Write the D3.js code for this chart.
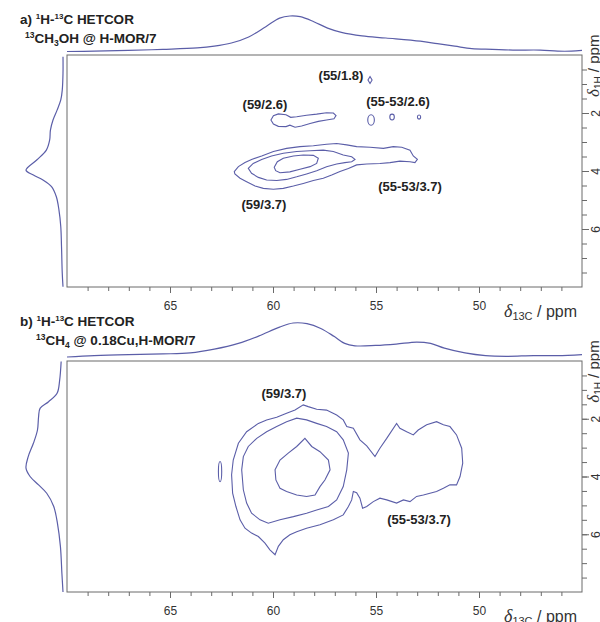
<!DOCTYPE html>
<html>
<head>
<meta charset="utf-8">
<script src="https://cdn.jsdelivr.net/npm/d3@7/dist/d3.min.js"></script>
<style>
body { margin: 0; background: #fff; }
svg { display: block; font-family: "Liberation Sans", Arial, sans-serif; }
</style>
</head>
<body>
<script>
// 13C axis (ppm, reversed) and 1H axis (ppm)
var xDomain = [70, 45];
var xMajor = [65, 60, 55, 50];
var yDomain = [0, 8];
var yMajor = [2, 4, 6];

// ---- panel a: 13CH3OH @ H-MOR/7 ----
// 1D projections (shift, relative intensity)
var topA_c = [70, 68.68, 67.02, 65.35, 63.68, 62.85, 62.02, 61.18, 60.35, 59.68, 59.18, 58.68, 58.02, 57.35, 56.68, 55.68, 54.52, 52.85, 52.02, 51.18, 50.35, 49.35, 48.35, 47.02, 46.18, 45.52, 45];
var topA_i = [0, 0.01, 0.03, 0.06, 0.10, 0.15, 0.24, 0.41, 0.70, 0.94, 1.0, 0.98, 0.84, 0.66, 0.54, 0.44, 0.38, 0.29, 0.22, 0.15, 0.08, 0.06, 0.04, 0.04, 0.01, 0.01, 0.03];
var leftA_h = [0.06, 0.63, 1.21, 1.55, 1.90, 2.24, 2.59, 2.93, 3.28, 3.62, 3.97, 4.14, 4.31, 4.54, 4.89, 5.34, 5.92, 6.61, 7.53, 7.99];
var leftA_i = [0, 0, 0.02, 0.06, 0.16, 0.27, 0.34, 0.36, 0.45, 0.71, 1.0, 0.80, 0.54, 0.31, 0.18, 0.11, 0.06, 0.04, 0.02, 0];

// contour lines, [13C, 1H] pairs
var contA_outer = [[61.88,4.02],[61.68,3.85],[61.36,3.71],[61.04,3.60],[60.55,3.48],[59.98,3.33],[59.34,3.22],[58.69,3.16],[58.04,3.13],[57.40,3.08],[56.91,3.05],[56.42,3.10],[55.94,3.16],[55.29,3.18],[54.64,3.22],[54.16,3.16],[53.75,3.18],[53.35,3.28],[53.19,3.48],[52.99,3.60],[53.11,3.71],[53.35,3.68],[53.84,3.66],[54.32,3.71],[54.81,3.74],[55.45,3.76],[55.94,3.79],[56.34,3.91],[56.75,4.02],[57.15,4.14],[57.56,4.25],[58.04,4.33],[58.53,4.43],[59.01,4.52],[59.50,4.60],[59.98,4.63],[60.47,4.60],[60.87,4.52],[61.28,4.37],[61.60,4.25],[61.85,4.10]];
var contA_mid = [[61.20,3.91],[60.96,3.74],[60.55,3.60],[60.07,3.48],[59.50,3.39],[58.85,3.33],[58.20,3.30],[57.56,3.28],[57.07,3.33],[56.59,3.45],[56.18,3.51],[56.02,3.60],[56.18,3.68],[56.51,3.71],[56.91,3.76],[57.40,3.85],[57.88,3.99],[58.37,4.10],[58.85,4.20],[59.34,4.29],[59.82,4.33],[60.31,4.31],[60.71,4.22],[61.04,4.08]];
var contA_inner = [[59.94,3.87],[59.79,3.68],[59.50,3.56],[59.01,3.48],[58.53,3.45],[58.04,3.46],[57.80,3.56],[57.88,3.74],[58.20,3.85],[58.69,3.94],[59.18,4.03],[59.66,4.06],[59.87,3.99]];
var contA_peanut = [[60.10,2.24],[59.98,2.09],[59.74,2.03],[59.37,2.06],[59.14,2.15],[58.85,2.13],[58.37,2.08],[57.88,2.04],[57.40,1.99],[57.07,2.00],[56.94,2.09],[57.04,2.20],[57.40,2.24],[57.80,2.29],[58.20,2.36],[58.61,2.45],[58.93,2.49],[59.18,2.42],[59.37,2.47],[59.74,2.46],[59.98,2.38]];
var contA_small = [[55.29,0.74],[55.19,0.86],[55.29,0.98],[55.39,0.86]];
// small round peaks: [13C, 1H, half-width 13C, half-width 1H]
var spotsA = [[55.24,2.24,0.16,0.18],[54.22,2.14,0.11,0.10],[52.91,2.14,0.08,0.07]];
var labelsA = ["(55/1.8)", "(59/2.6)", "(55-53/2.6)", "(55-53/3.7)", "(59/3.7)"];
var labelPosA = [[56.70,0.69],[60.39,1.69],[53.93,1.62],[53.35,4.52],[60.44,5.14]];

// ---- panel b: 13CH4 @ 0.18Cu,H-MOR/7 ----
var topB_c = [70, 68.68, 67.02, 65.35, 64.02, 62.85, 61.68, 60.68, 59.68, 59.02, 58.35, 57.68, 57.02, 56.52, 56.02, 55.02, 54.02, 53.02, 52.35, 51.68, 50.68, 49.68, 48.68, 47.35, 46.18, 45];
var topB_i = [0, 0.04, 0.07, 0.09, 0.12, 0.23, 0.40, 0.62, 0.88, 1.0, 0.98, 0.84, 0.60, 0.40, 0.33, 0.34, 0.38, 0.44, 0.40, 0.26, 0.12, 0.04, 0.02, 0.04, 0.04, 0.07];
var leftB_h = [0.02, 0.66, 1.12, 1.41, 1.64, 1.93, 2.39, 2.85, 3.31, 3.71, 4.0, 4.29, 4.58, 5.04, 5.62, 6.42, 7.35, 8.0];
var leftB_i = [0.05, 0.09, 0.16, 0.39, 0.62, 0.66, 0.69, 0.80, 0.94, 1.0, 0.89, 0.66, 0.44, 0.25, 0.15, 0.07, 0.03, 0];

var contB_outer = [[62.01,3.94],[61.93,3.43],[61.68,2.85],[61.28,2.45],[60.71,2.16],[60.31,2.04],[59.82,1.95],[59.34,1.81],[58.93,1.70],[58.53,1.52],[58.29,1.58],[57.88,1.67],[57.40,1.70],[56.91,1.87],[56.59,2.04],[56.42,2.27],[56.10,2.33],[55.78,2.73],[55.45,2.94],[55.05,3.31],[54.81,3.02],[54.48,2.68],[54.00,2.16],[53.84,2.33],[53.51,2.45],[53.19,2.56],[52.95,2.39],[52.54,2.21],[52.06,2.10],[51.73,2.21],[51.41,2.27],[51.09,2.56],[50.84,3.02],[50.79,3.54],[50.92,4.00],[51.09,4.29],[51.41,4.29],[51.73,4.41],[52.06,4.52],[52.38,4.58],[52.70,4.64],[53.03,4.69],[53.35,4.87],[53.67,4.81],[54.00,4.92],[54.48,4.81],[54.81,4.75],[55.13,4.87],[55.45,5.04],[55.65,5.10],[55.78,4.75],[55.94,4.56],[56.10,4.52],[56.18,4.81],[56.34,5.04],[56.59,5.33],[57.07,5.50],[57.72,5.67],[58.37,5.79],[58.85,5.91],[59.18,6.02],[59.50,6.19],[59.74,6.42],[59.90,6.71],[60.15,6.54],[60.39,6.31],[60.71,6.08],[61.04,5.96],[61.36,5.79],[61.60,5.50],[61.80,5.04],[61.96,4.58]];
var contB_mid = [[61.52,3.77],[61.44,3.31],[61.20,2.96],[60.79,2.68],[60.31,2.45],[59.82,2.27],[59.34,2.10],[58.85,1.98],[58.37,2.04],[57.88,2.16],[57.40,2.27],[56.91,2.45],[56.59,2.73],[56.34,3.19],[56.42,3.77],[56.59,4.35],[56.91,4.81],[57.31,5.04],[57.88,5.16],[58.37,5.27],[59.01,5.39],[59.66,5.50],[60.23,5.62],[60.63,5.50],[61.04,5.27],[61.28,4.92],[61.44,4.46]];
var contB_inner = [[59.90,3.77],[59.66,3.43],[59.26,3.19],[58.85,2.96],[58.45,2.68],[58.12,2.96],[57.72,3.14],[57.31,3.43],[57.23,3.77],[57.48,4.12],[57.72,4.35],[57.96,4.64],[58.37,4.69],[58.85,4.64],[59.34,4.52],[59.66,4.41],[59.86,4.12]];
var spotsB = [[62.57,3.83,0.08,0.35]];
var labelsB = ["(59/3.7)", "(55-53/3.7)"];
var labelPosB = [[59.47,1.14],[52.91,5.50]];

// dimensions
var w = 600, h = 622;
var lineColor = "#5b5ea8";
var frameColor = "#6a6a6a";

var svg = d3.select("body").append("svg")
    .attr("width", w)
    .attr("height", h);

var x = d3.scaleLinear().domain(xDomain).range([67, 582]);

// add text made of plain / sup / sub pieces
function richText(el, parts, small) {
  var shift = 0;
  parts.forEach(function(p) {
    var t = el.append("tspan").text(p[0]);
    var want = p[1] == "sup" ? -5 : (p[1] == "sub" ? 3 : 0);
    t.attr("dy", want - shift);
    if (p[1]) t.attr("font-size", small);
    shift = want;
  });
}

function drawPanel(p) {
  var g = svg.append("g");
  var y = d3.scaleLinear().domain(yDomain).range([p.top, p.bottom]);

  // top projection
  var yProj = d3.scaleLinear().domain([0, 1]).range([p.topBase, p.topPeak]);
  g.append("path")
      .datum(d3.zip(p.topC, p.topI))
      .attr("fill", "none")
      .attr("stroke", lineColor)
      .attr("stroke-width", 1.2)
      .attr("d", d3.line().x(function(d) { return x(d[0]); }).y(function(d) { return yProj(d[1]); }).curve(d3.curveCatmullRom));

  // left projection
  var xProj = d3.scaleLinear().domain([0, 1]).range([63, 26]);
  g.append("path")
      .datum(d3.zip(p.leftH, p.leftI))
      .attr("fill", "none")
      .attr("stroke", lineColor)
      .attr("stroke-width", 1.2)
      .attr("d", d3.line().x(function(d) { return xProj(d[1]); }).y(function(d) { return y(d[0]); }).curve(d3.curveCatmullRom));

  // frame
  g.append("rect")
      .attr("x", x(xDomain[0]))
      .attr("y", p.top)
      .attr("width", x(xDomain[1]) - x(xDomain[0]))
      .attr("height", p.bottom - p.top)
      .attr("fill", "none")
      .attr("stroke", frameColor)
      .attr("stroke-width", 1);

  // x axis: minor and major ticks below the frame
  g.append("g")
      .attr("transform", "translate(0," + p.bottom + ")")
      .call(d3.axisBottom(x).tickValues(d3.range(46, 70)).tickSize(4).tickFormat(""))
      .call(function(a) { a.select(".domain").remove(); a.selectAll("line").attr("stroke", frameColor); });
  g.append("g")
      .attr("transform", "translate(0," + p.bottom + ")")
      .call(d3.axisBottom(x).tickValues(xMajor).tickSize(6).tickPadding(8))
      .call(function(a) {
        a.select(".domain").remove();
        a.selectAll("line").attr("stroke", frameColor);
        a.selectAll("text").attr("font-size", 12).attr("font-family", "Liberation Sans, Arial, sans-serif").attr("fill", "#333");
      });

  // y axis on the right, labels turned
  var right = x(xDomain[1]);
  g.append("g")
      .attr("transform", "translate(" + right + ",0)")
      .call(d3.axisRight(y).tickValues(d3.range(0.5, 8, 0.5)).tickSize(5).tickFormat(""))
      .call(function(a) { a.select(".domain").remove(); a.selectAll("line").attr("stroke", frameColor); });
  g.append("g")
      .attr("transform", "translate(" + right + ",0)")
      .call(d3.axisRight(y).tickValues(yMajor).tickSize(7))
      .call(function(a) {
        a.select(".domain").remove();
        a.selectAll("line").attr("stroke", frameColor);
        a.selectAll("text")
          .attr("x", 0).attr("dy", 0)
          .attr("transform", "translate(18,0) rotate(-90)")
          .attr("text-anchor", "middle")
          .attr("font-size", 12)
          .attr("font-family", "Liberation Sans, Arial, sans-serif")
          .attr("fill", "#333");
      });

  // 1H axis title
  var yt = g.append("text")
      .attr("transform", "translate(" + (right + 17) + "," + (y(yMajor[0]) - 16) + ") rotate(-90)")
      .attr("font-size", 15)
      .attr("fill", "#333");
  yt.append("tspan").attr("font-family", "Liberation Serif, Times New Roman, serif").attr("font-style", "italic").attr("font-size", 17).text("δ");
  yt.append("tspan").attr("font-size", 10).attr("dy", 3).text("1H");
  yt.append("tspan").attr("dy", -3).text(" / ppm");

  // 13C axis title
  var xt = g.append("text")
      .attr("x", 504)
      .attr("y", p.bottom + p.titleGap)
      .attr("font-size", 16)
      .attr("fill", "#333");
  xt.append("tspan").attr("font-family", "Liberation Serif, Times New Roman, serif").attr("font-style", "italic").attr("font-size", 18).text("δ");
  xt.append("tspan").attr("font-size", 11).attr("dy", 3).text("13C");
  xt.append("tspan").attr("dy", -3).text(" / ppm");

  // contour lines
  var contour = d3.line()
      .x(function(d) { return x(d[0]); })
      .y(function(d) { return y(d[1]); })
      .curve(d3.curveLinearClosed);
  g.selectAll(".cont")
      .data(p.contours)
      .enter()
      .append("path")
      .attr("fill", "none")
      .attr("stroke", lineColor)
      .attr("stroke-width", 1.1)
      .attr("d", contour);
  g.selectAll(".spot")
      .data(p.spots)
      .enter()
      .append("ellipse")
      .attr("cx", function(d) { return x(d[0]); })
      .attr("cy", function(d) { return y(d[1]); })
      .attr("rx", function(d) { return Math.abs(x(d[0] + d[2]) - x(d[0])); })
      .attr("ry", function(d) { return y(d[1] + d[3]) - y(d[1]); })
      .attr("fill", "none")
      .attr("stroke", lineColor)
      .attr("stroke-width", 1.1);

  // peak labels
  g.selectAll(".lab")
      .data(p.labels)
      .enter()
      .append("text")
      .attr("x", function(d, i) { return x(p.labelPos[i][0]); })
      .attr("y", function(d, i) { return y(p.labelPos[i][1]); })
      .attr("text-anchor", "middle")
      .attr("dominant-baseline", "central")
      .attr("font-size", 13)
      .attr("font-weight", "bold")
      .attr("fill", "#222")
      .text(function(d) { return d; });

  // panel title
  var t1 = svg.append("text").attr("x", 20).attr("y", p.titleY)
      .attr("font-size", 13.5).attr("font-weight", "bold").attr("fill", "#222");
  richText(t1, p.title1, 8);
  var t2 = svg.append("text").attr("x", p.title2X).attr("y", p.titleY + 19)
      .attr("font-size", 13.5).attr("font-weight", "bold").attr("fill", "#222");
  richText(t2, p.title2, 8.5);
}

drawPanel({
  top: 55, bottom: 287, topBase: 51.5, topPeak: 16, titleGap: 30,
  topC: topA_c, topI: topA_i, leftH: leftA_h, leftI: leftA_i,
  contours: [contA_outer, contA_mid, contA_inner, contA_peanut, contA_small],
  spots: spotsA, labels: labelsA, labelPos: labelPosA,
  titleY: 24, title2X: 25,
  title1: [["a) "], ["1", "sup"], ["H-"], ["13", "sup"], ["C HETCOR"]],
  title2: [["13", "sup"], ["CH"], ["3", "sub"], ["OH @ H-MOR/7"]]
});

drawPanel({
  top: 361, bottom: 592, topBase: 357, topPeak: 323, titleGap: 30,
  topC: topB_c, topI: topB_i, leftH: leftB_h, leftI: leftB_i,
  contours: [contB_outer, contB_mid, contB_inner],
  spots: spotsB, labels: labelsB, labelPos: labelPosB,
  titleY: 326, title2X: 36,
  title1: [["b) "], ["1", "sup"], ["H-"], ["13", "sup"], ["C HETCOR"]],
  title2: [["13", "sup"], ["CH"], ["4", "sub"], [" @ 0.18Cu,H-MOR/7"]]
});
</script>
</body>
</html>
